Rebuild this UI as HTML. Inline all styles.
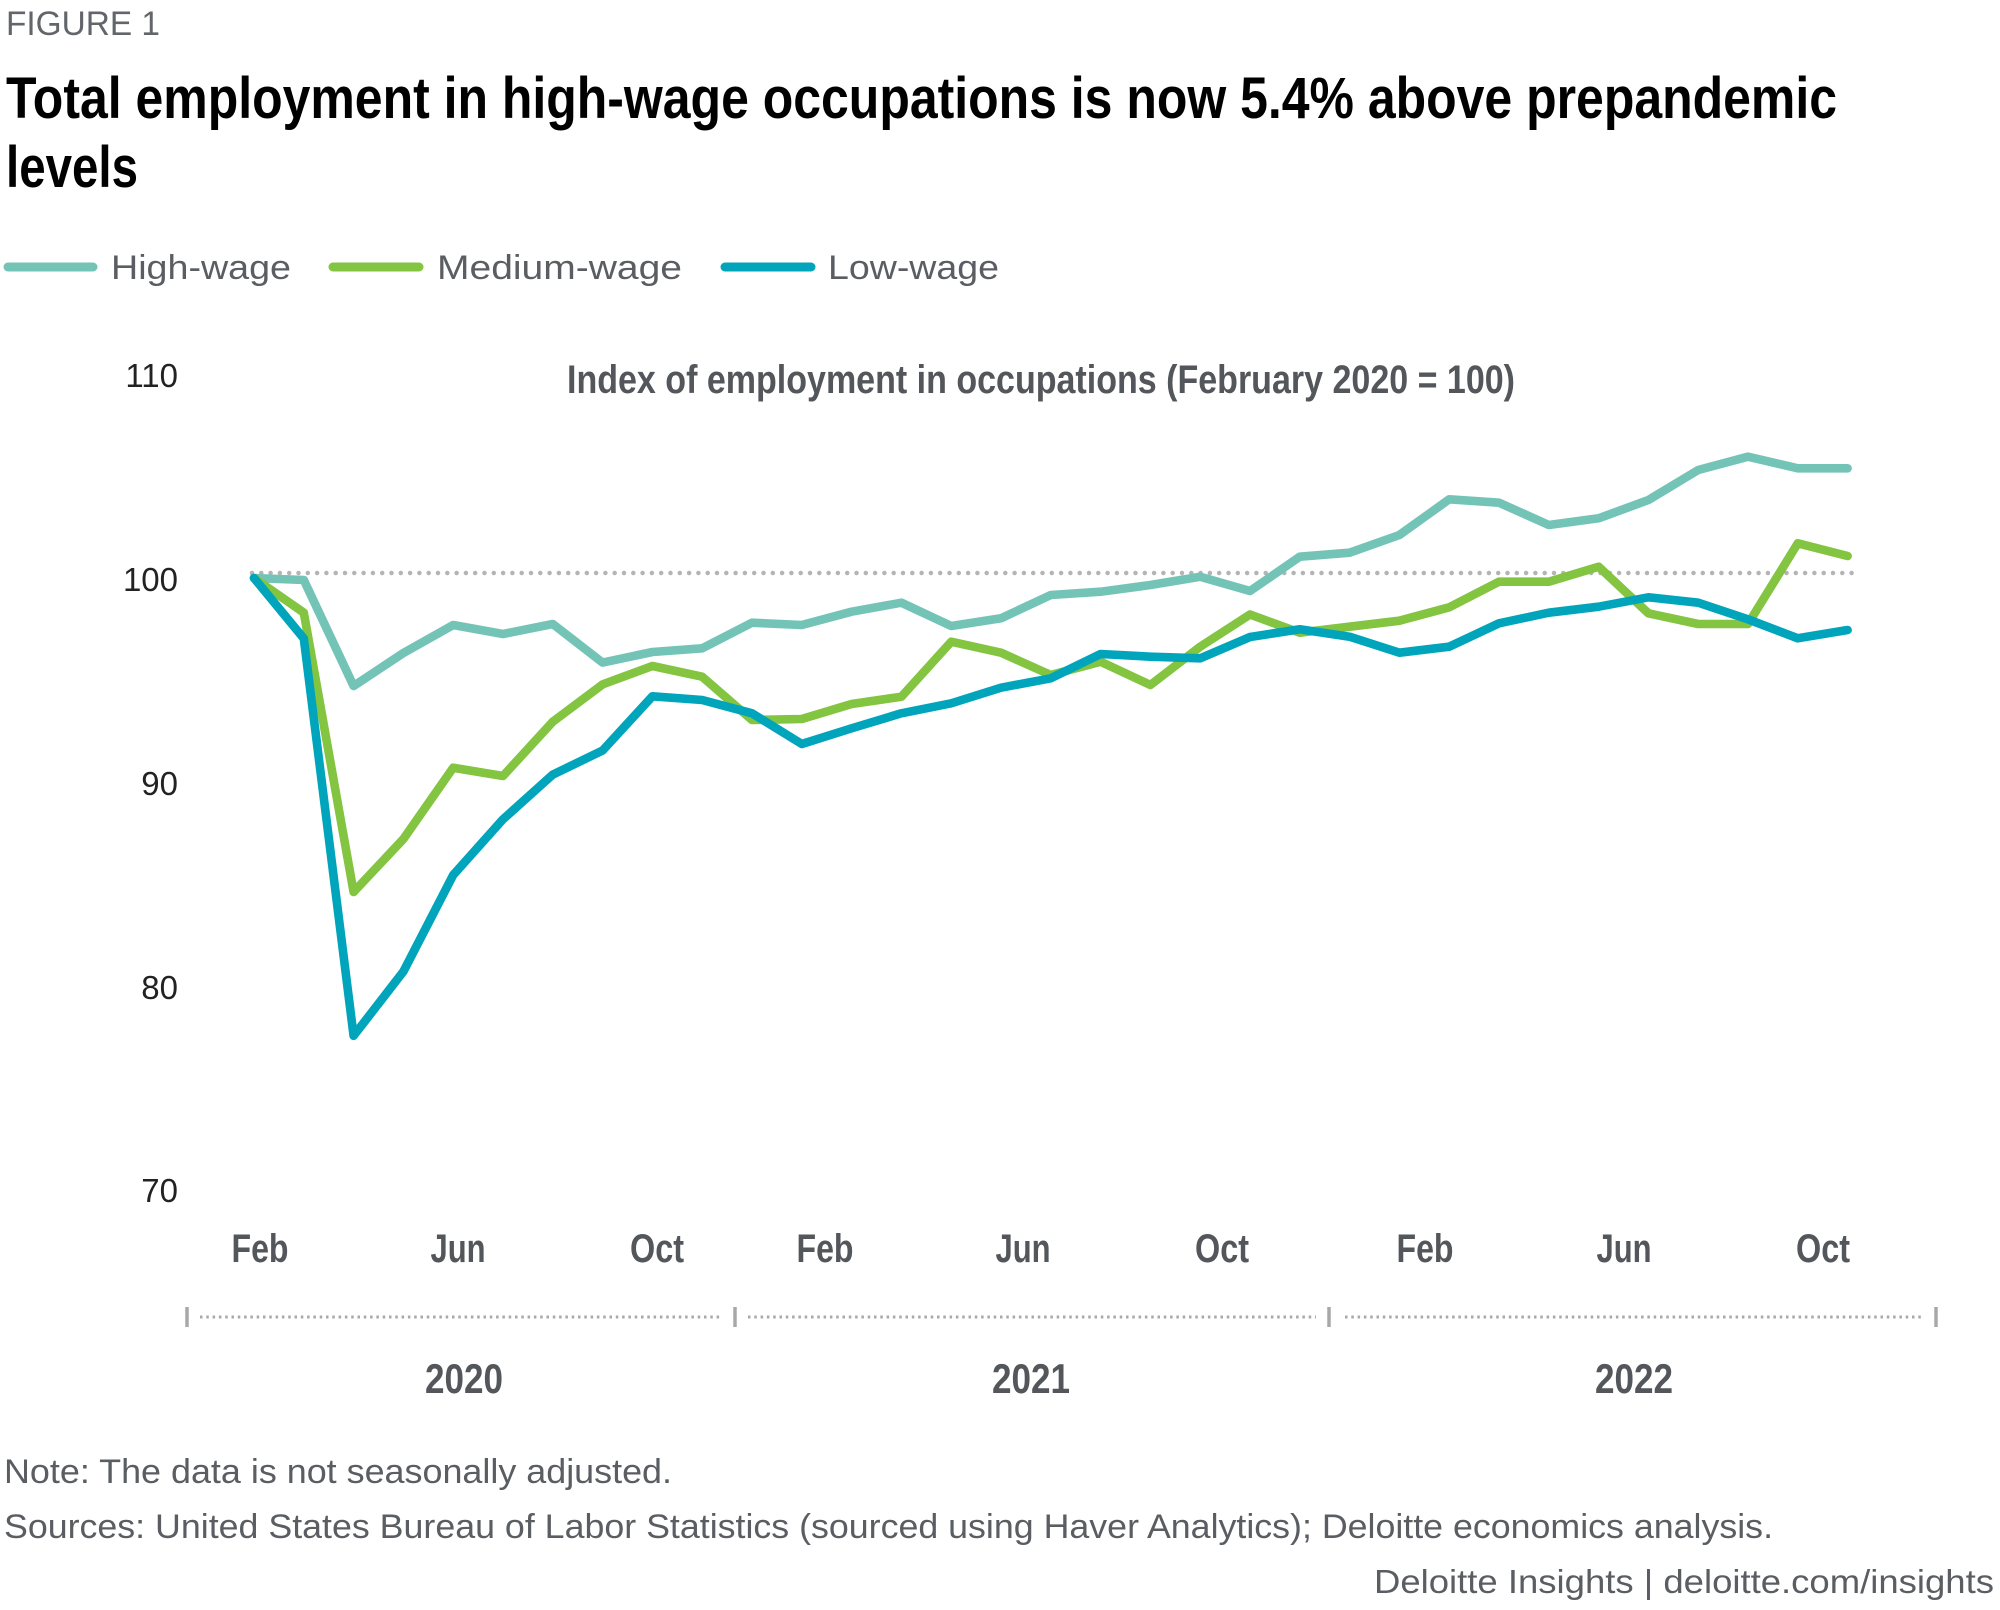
<!DOCTYPE html>
<html>
<head>
<meta charset="utf-8">
<style>
  html, body { margin: 0; padding: 0; background: #ffffff; }
  svg { display: block; }
  text { font-family: "Liberation Sans", Arial, sans-serif; }
</style>
</head>
<body>
<svg width="2000" height="1610" viewBox="0 0 2000 1610" xmlns="http://www.w3.org/2000/svg">
  <rect x="0" y="0" width="2000" height="1610" fill="#ffffff"/>

  <!-- Header -->
  <text x="6" y="35" font-size="34" fill="#62656a" textLength="154" lengthAdjust="spacingAndGlyphs">FIGURE 1</text>
  <text x="6" y="118" font-size="58" font-weight="bold" fill="#000000" textLength="1831" lengthAdjust="spacingAndGlyphs">Total employment in high-wage occupations is now 5.4% above prepandemic</text>
  <text x="6" y="187" font-size="58" font-weight="bold" fill="#000000" textLength="132" lengthAdjust="spacingAndGlyphs">levels</text>

  <!-- Legend -->
  <line x1="8" y1="267" x2="93" y2="267" stroke="#73c4b7" stroke-width="9" stroke-linecap="round"/>
  <text x="111" y="279" font-size="34" fill="#5a5d62" textLength="180" lengthAdjust="spacingAndGlyphs">High-wage</text>
  <line x1="333" y1="267" x2="419" y2="267" stroke="#83c441" stroke-width="9" stroke-linecap="round"/>
  <text x="437" y="279" font-size="34" fill="#5a5d62" textLength="245" lengthAdjust="spacingAndGlyphs">Medium-wage</text>
  <line x1="725" y1="267" x2="811" y2="267" stroke="#00a5bb" stroke-width="9" stroke-linecap="round"/>
  <text x="828" y="279" font-size="34" fill="#5a5d62" textLength="171" lengthAdjust="spacingAndGlyphs">Low-wage</text>

  <!-- Chart title -->
  <text x="567" y="393" font-size="40" font-weight="bold" fill="#53565a" textLength="948" lengthAdjust="spacingAndGlyphs">Index of employment in occupations (February 2020 = 100)</text>

  <!-- Y axis labels -->
  <g font-size="33" fill="#222222" text-anchor="end">
    <text x="178" y="387">110</text>
    <text x="178" y="591">100</text>
    <text x="178" y="795">90</text>
    <text x="178" y="999">80</text>
    <text x="178" y="1202">70</text>
  </g>

  <!-- Reference dotted line at 100 -->
  <line x1="252" y1="573" x2="1855" y2="573" stroke="#b4b4b4" stroke-width="4.5" stroke-linecap="round" stroke-dasharray="0 9.3"/>

  <!-- Series -->
  <g fill="none" stroke-width="8.6" stroke-linejoin="round" stroke-linecap="round">
    <path stroke="#73c4b7" d="M254,578 L303.8,580 L353.6,686 L403.4,653 L453.2,625 L503,634 L552.8,624 L602.6,662.6 L652.4,652 L702.2,648.3 L752,622.7 L801.8,625 L851.6,611.7 L901.4,602.7 L951.2,626 L1001,618.3 L1050.8,595 L1100.6,591.7 L1150.4,585 L1200.2,576.7 L1250,591 L1299.8,556.7 L1349.6,552.7 L1399.4,535 L1449.2,499.3 L1499,502.7 L1548.8,525 L1598.6,518.3 L1648.4,500 L1698.2,470 L1748,456.7 L1797.8,468.3 L1847.6,468.3"/>
    <path stroke="#83c441" d="M254,578 L303.8,612.7 L353.6,892 L403.4,839 L453.2,767.7 L503,776 L552.8,721.7 L602.6,684.4 L652.4,666 L702.2,676.7 L752,720 L801.8,719 L851.6,704 L901.4,696.7 L951.2,641.7 L1001,652.7 L1050.8,675 L1100.6,661.7 L1150.4,685 L1200.2,646.7 L1250,614.5 L1299.8,632.7 L1349.6,626.7 L1399.4,620.7 L1449.2,607.3 L1499,581.7 L1548.8,581.7 L1598.6,566.7 L1648.4,613.3 L1698.2,624 L1748,624 L1797.8,543.3 L1847.6,556"/>
    <path stroke="#00a5bb" d="M254,578 L303.8,638.5 L353.6,1035.8 L403.4,971.5 L453.2,875 L503,819.3 L552.8,774.6 L602.6,750.5 L652.4,696.3 L702.2,700 L752,713.3 L801.8,744 L851.6,728.3 L901.4,713.3 L951.2,703.3 L1001,687.7 L1050.8,678.3 L1100.6,654 L1150.4,656.7 L1200.2,658.3 L1250,637 L1299.8,629.3 L1349.6,636.7 L1399.4,652.7 L1449.2,646.7 L1499,623.3 L1548.8,612.7 L1598.6,606.7 L1648.4,597.3 L1698.2,602.7 L1748,619.3 L1797.8,638.3 L1847.6,630"/>
  </g>

  <!-- Month labels -->
  <g font-size="40" font-weight="bold" fill="#53565a" text-anchor="middle">
    <text x="260" y="1262" textLength="57" lengthAdjust="spacingAndGlyphs">Feb</text>
    <text x="458" y="1262" textLength="55" lengthAdjust="spacingAndGlyphs">Jun</text>
    <text x="657" y="1262" textLength="54" lengthAdjust="spacingAndGlyphs">Oct</text>
    <text x="825" y="1262" textLength="57" lengthAdjust="spacingAndGlyphs">Feb</text>
    <text x="1023" y="1262" textLength="55" lengthAdjust="spacingAndGlyphs">Jun</text>
    <text x="1222" y="1262" textLength="54" lengthAdjust="spacingAndGlyphs">Oct</text>
    <text x="1425" y="1262" textLength="57" lengthAdjust="spacingAndGlyphs">Feb</text>
    <text x="1624" y="1262" textLength="55" lengthAdjust="spacingAndGlyphs">Jun</text>
    <text x="1823" y="1262" textLength="54" lengthAdjust="spacingAndGlyphs">Oct</text>
  </g>

  <!-- Year bracket -->
  <g stroke="#a7a8aa" stroke-width="3.5">
    <line x1="187" y1="1307" x2="187" y2="1327"/>
    <line x1="735" y1="1307" x2="735" y2="1327"/>
    <line x1="1329" y1="1307" x2="1329" y2="1327"/>
    <line x1="1936" y1="1307" x2="1936" y2="1327"/>
  </g>
  <g stroke="#a7a8aa" stroke-width="3" stroke-dasharray="2.5 3.8">
    <line x1="200" y1="1317" x2="722" y2="1317"/>
    <line x1="748" y1="1317" x2="1316" y2="1317"/>
    <line x1="1345" y1="1317" x2="1924" y2="1317"/>
  </g>

  <!-- Year labels -->
  <g font-size="42" font-weight="bold" fill="#53565a" text-anchor="middle">
    <text x="464" y="1393" textLength="78" lengthAdjust="spacingAndGlyphs">2020</text>
    <text x="1031" y="1393" textLength="78" lengthAdjust="spacingAndGlyphs">2021</text>
    <text x="1634" y="1393" textLength="78" lengthAdjust="spacingAndGlyphs">2022</text>
  </g>

  <!-- Notes -->
  <text x="4" y="1483" font-size="34" fill="#5a5d62" textLength="668" lengthAdjust="spacingAndGlyphs">Note: The data is not seasonally adjusted.</text>
  <text x="4" y="1538" font-size="34" fill="#5a5d62" textLength="1769" lengthAdjust="spacingAndGlyphs">Sources: United States Bureau of Labor Statistics (sourced using Haver Analytics); Deloitte economics analysis.</text>
  <text x="1374" y="1593" font-size="33" fill="#5a5d62" textLength="620" lengthAdjust="spacingAndGlyphs">Deloitte Insights | deloitte.com/insights</text>
</svg>
</body>
</html>
